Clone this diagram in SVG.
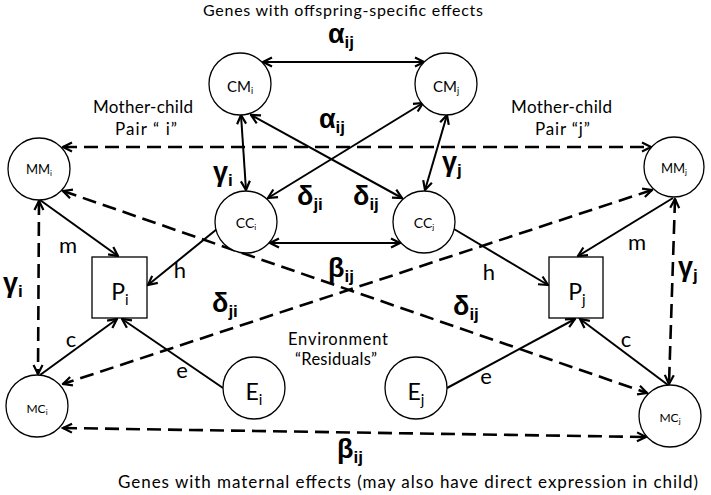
<svg xmlns="http://www.w3.org/2000/svg" width="711" height="495" viewBox="0 0 711 495">
<defs>
<marker id="ah" viewBox="0 0 12 12" markerWidth="12" markerHeight="12" refX="10.5" refY="6" orient="auto-start-reverse" markerUnits="userSpaceOnUse">
<path d="M1.5,1.5 L10.5,6 L1.5,10.5" fill="none" stroke="#000" stroke-width="2.2" stroke-dasharray="none"/>
</marker>
<style>
.nd circle{fill:#fff;stroke:#000;stroke-width:1.3}
.nd rect{fill:#fff;stroke:#000;stroke-width:1.3}
.sol{stroke:#000;stroke-width:2;fill:none}
.dsh{stroke:#000;stroke-width:2.6;fill:none;stroke-dasharray:14 7}
.both{marker-start:url(#ah);marker-end:url(#ah)}
.end{marker-end:url(#ah)}
text{font-family:Lato,"Liberation Sans",sans-serif;fill:#000}
.nl{text-anchor:middle}
.gk{font-family:"Liberation Sans","DejaVu Sans",sans-serif;font-weight:bold;font-size:27px}
.gs{font-size:17px}
.pl{font-size:22px;text-anchor:middle}
.cap{font-size:17px}
</style>
</defs>
<rect width="711" height="495" fill="#fff"/>

<g id="connectors">
<line class="sol both" x1="263" y1="62" x2="424" y2="62"/>
<line class="sol both" x1="268" y1="198" x2="423" y2="103"/>
<line class="sol both" x1="251" y1="115" x2="402" y2="198"/>
<line class="sol both" x1="241" y1="115" x2="246" y2="190"/>
<line class="sol both" x1="447" y1="115" x2="425" y2="190"/>
<line class="sol both" x1="270" y1="243" x2="400" y2="243"/>
<line class="dsh both" x1="63" y1="147" x2="651" y2="147"/>
<line class="dsh both" x1="63" y1="191" x2="647" y2="393"/>
<line class="dsh both" x1="652" y1="190" x2="63" y2="384"/>
<line class="dsh both" x1="63" y1="428" x2="646" y2="437"/>
<line class="dsh both" x1="39" y1="201" x2="38" y2="374"/>
<line class="dsh both" x1="675" y1="199" x2="669" y2="384"/>
<line class="sol end" x1="40" y1="200" x2="118" y2="256"/>
<line class="sol end" x1="673" y1="198" x2="578" y2="256"/>
<line class="sol end" x1="217" y1="229" x2="148" y2="285"/>
<line class="sol end" x1="454" y1="229" x2="548" y2="285"/>
<line class="sol end" x1="40" y1="375" x2="117" y2="319"/>
<line class="sol end" x1="668" y1="385" x2="580" y2="319"/>
<line class="sol end" x1="223" y1="388" x2="122" y2="319"/>
<line class="sol end" x1="447" y1="388" x2="575" y2="319"/>
</g>

<g id="CMi" class="nd"><circle cx="240" cy="84" r="31"/><text class="nl" x="240" y="92" font-size="15">CM<tspan font-size="9" dy="2">i</tspan></text></g>
<g id="CMj" class="nd"><circle cx="446" cy="84" r="31"/><text class="nl" x="446" y="92" font-size="15">CM<tspan font-size="9" dy="2">j</tspan></text></g>
<g id="MMi" class="nd"><circle cx="39" cy="169" r="31"/><text class="nl" x="39" y="174" font-size="13">MM<tspan font-size="8" dy="2">i</tspan></text></g>
<g id="MMj" class="nd"><circle cx="674" cy="167" r="30"/><text class="nl" x="674" y="173" font-size="13">MM<tspan font-size="8" dy="2">j</tspan></text></g>
<g id="CCi" class="nd"><circle cx="246" cy="222" r="31"/><text class="nl" x="246" y="228" font-size="14">CC<tspan font-size="8" dy="2">i</tspan></text></g>
<g id="CCj" class="nd"><circle cx="424" cy="222" r="31"/><text class="nl" x="424" y="228" font-size="14">CC<tspan font-size="8" dy="2">j</tspan></text></g>
<g id="Pi" class="nd"><rect x="92" y="257" width="55" height="61"/><text class="nl" x="120" y="300" font-size="23">P<tspan font-size="15" dy="5">i</tspan></text></g>
<g id="Pj" class="nd"><rect x="549" y="257" width="54" height="61"/><text class="nl" x="577" y="300" font-size="23">P<tspan font-size="15" dy="5">j</tspan></text></g>
<g id="MCi" class="nd"><circle cx="37" cy="406" r="31"/><text class="nl" x="37" y="413" font-size="12">MC<tspan font-size="8" dy="2">i</tspan></text></g>
<g id="MCj" class="nd"><circle cx="670" cy="416" r="31"/><text class="nl" x="670" y="422" font-size="12">MC<tspan font-size="8" dy="2">j</tspan></text></g>
<g id="Ei" class="nd"><circle cx="254" cy="388" r="31"/><text class="nl" x="254" y="400" font-size="23">E<tspan font-size="15" dy="5">i</tspan></text></g>
<g id="Ej" class="nd"><circle cx="416" cy="388" r="31"/><text class="nl" x="416" y="400" font-size="23">E<tspan font-size="15" dy="5">j</tspan></text></g>

<g id="labels">
<text x="203" y="16" font-size="16" textLength="280">Genes with offspring-specific effects</text>
<text x="118" y="488" class="cap" textLength="580">Genes with maternal effects (may also have direct expression in child)</text>
<text x="93" y="113" class="cap" textLength="100">Mother-child</text>
<text x="115" y="135" class="cap" textLength="62">Pair “ i”</text>
<text x="511" y="113" class="cap" textLength="101">Mother-child</text>
<text x="535" y="135" class="cap" textLength="55">Pair “j”</text>
<text x="288" y="345" font-size="16.5" textLength="100">Environment</text>
<text x="295" y="365" font-size="16.5" textLength="82">“Residuals”</text>

<text class="gk" x="328" y="43">α<tspan class="gs" dy="5">ij</tspan></text>
<text class="gk" x="319" y="128">α<tspan class="gs" dy="5">ij</tspan></text>
<text class="gk" x="213" y="181">γ<tspan class="gs" dy="5">i</tspan></text>
<text class="gk" x="297" y="205">δ<tspan class="gs" dy="5">ji</tspan></text>
<text class="gk" x="353" y="205">δ<tspan class="gs" dy="5">ij</tspan></text>
<text class="gk" x="442" y="171">γ<tspan class="gs" dy="5">j</tspan></text>
<text class="gk" x="328" y="277">β<tspan class="gs" dy="5">ij</tspan></text>
<text class="gk" x="212" y="312">δ<tspan class="gs" dy="5">ji</tspan></text>
<text class="gk" x="453" y="315">δ<tspan class="gs" dy="5">ij</tspan></text>
<text class="gk" x="337" y="458">β<tspan class="gs" dy="5">ij</tspan></text>
<text class="gk" x="3" y="292">γ<tspan class="gs" dy="5">i</tspan></text>
<text class="gk" x="678" y="276">γ<tspan class="gs" dy="5">j</tspan></text>

<text class="pl" x="68" y="253">m</text>
<text class="pl" x="180" y="278">h</text>
<text class="pl" x="71" y="347">c</text>
<text class="pl" x="182" y="378">e</text>
<text class="pl" x="489" y="280">h</text>
<text class="pl" x="637" y="250">m</text>
<text class="pl" x="626" y="347">c</text>
<text class="pl" x="486" y="384">e</text>
</g>
</svg>
